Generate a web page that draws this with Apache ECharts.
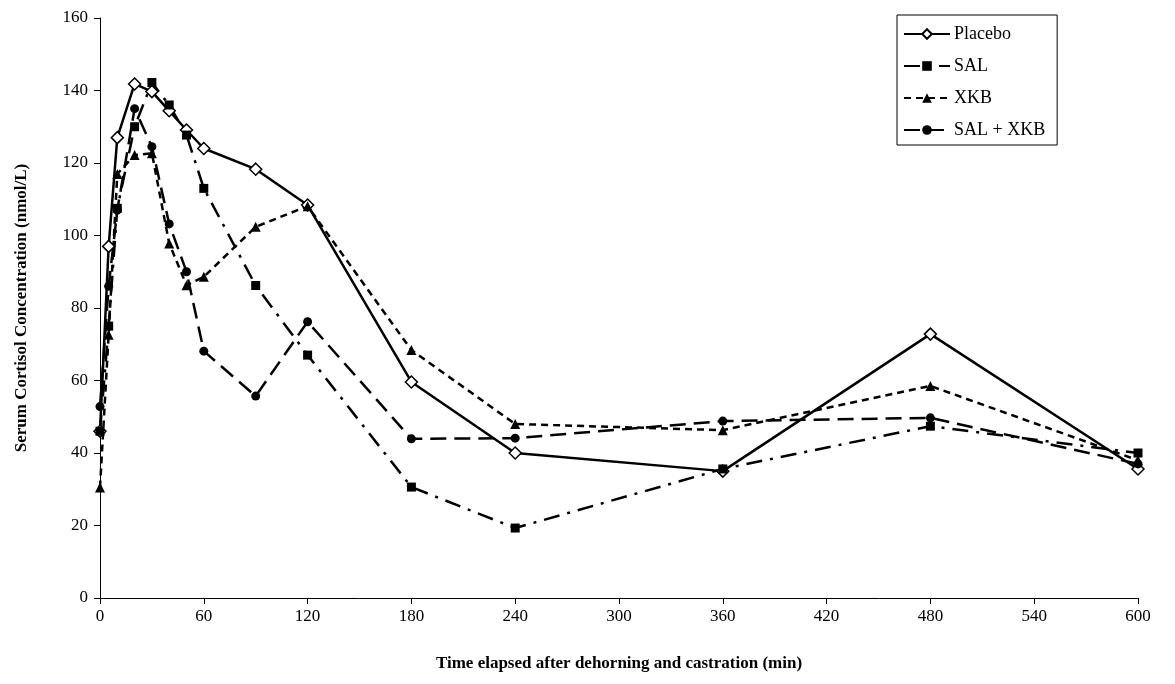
<!DOCTYPE html>
<html>
<head>
<meta charset="utf-8">
<script src="https://cdn.jsdelivr.net/npm/echarts@6/dist/echarts.min.js"></script>
<style>
  html, body { margin: 0; padding: 0; background: #fff; }
  #chart { width: 1175px; height: 684px; }
</style>
</head>
<body>
<div id="chart"></div>
<script>
// sampling times (min)
const times = [0, 5, 10, 20, 30, 40, 50, 60, 90, 120, 180, 240, 360, 480, 600];

// serum cortisol, nmol/L
const placebo = [46, 97, 127, 141.8, 139.7, 134.4, 129.1, 124, 118.3, 108.4, 59.6, 40, 35, 72.8, 35.6];
const sal     = [46, 75, 107.5, 130, 142.2, 136, 127.7, 113, 86.2, 67, 30.6, 19.3, 35.6, 47.4, 40];
const xkb     = [30.5, 72.6, 117, 122.2, 122.7, 97.8, 86.3, 88.6, 102.4, 108.1, 68.4, 48, 46.3, 58.5, 38];
const salXkb  = [52.8, 86, 107, 135, 124.5, 103.2, 90, 68.1, 55.7, 76.2, 43.9, 44.1, 48.8, 49.7, 37];

const xTicks = [0, 60, 120, 180, 240, 300, 360, 420, 480, 540, 600];
const yTicks = [0, 20, 40, 60, 80, 100, 120, 140, 160];

const pair = vals => times.map((t, i) => [t, vals[i]]);
const font = 'Liberation Serif';

const chart = echarts.init(document.getElementById('chart'));

const mk = (name, data, symbol, size, fill, dash) => ({
  name, type: 'line', data: pair(data),
  symbol, symbolSize: size,
  itemStyle: { color: fill, borderColor: '#000', borderWidth: fill === '#fff' ? 1.5 : 0 },
  lineStyle: { color: '#000', width: 2.5, type: dash },
  emphasis: { disabled: true },
  z: 3
});

chart.setOption({
  animation: false,
  textStyle: { fontFamily: font, color: '#000' },
  grid: { left: 100, right: 37, top: 18, bottom: 86 },
  legend: {
    orient: 'vertical',
    left: 897, top: 15,
    padding: [10, 12, 6, 6],
    itemWidth: 46, itemHeight: 12, itemGap: 14,
    borderColor: '#000', borderWidth: 1,
    textStyle: { fontFamily: font, fontSize: 18, color: '#000', padding: [0, 0, 0, -1] },
    data: ['Placebo', 'SAL', 'XKB', 'SAL + XKB']
  },
  xAxis: {
    type: 'value', min: 0, max: 600, interval: 60,
    name: 'Time elapsed after dehorning and castration (min)',
    nameLocation: 'middle', nameGap: 57,
    nameTextStyle: { fontFamily: font, fontSize: 17, fontWeight: 'bold', color: '#000' },
    axisLine: { lineStyle: { color: '#000', width: 1 } },
    axisTick: { show: true, inside: false, length: 6, lineStyle: { color: '#000' } },
    axisLabel: { fontFamily: font, fontSize: 17, color: '#000', margin: 10,
      customValues: xTicks },
    splitLine: { show: false }
  },
  yAxis: {
    type: 'value', min: 0, max: 160, interval: 20,
    name: 'Serum Cortisol Concentration (nmol/L)',
    nameLocation: 'middle', nameGap: 70,
    nameTextStyle: { fontFamily: font, fontSize: 17, fontWeight: 'bold', color: '#000' },
    axisLine: { show: true, lineStyle: { color: '#000', width: 1 } },
    axisTick: { show: true, inside: false, length: 6, lineStyle: { color: '#000' } },
    axisLabel: { fontFamily: font, fontSize: 17, color: '#000', margin: 12,
      customValues: yTicks },
    splitLine: { show: false }
  },
  series: [
    mk('Placebo', placebo, 'diamond', 12, '#fff', 'solid'),
    mk('SAL', sal, 'rect', 9, '#000', [16, 8, 3, 8]),
    mk('XKB', xkb, 'triangle', 10, '#000', [7, 5]),
    mk('SAL + XKB', salXkb, 'circle', 9, '#000', [16, 8])
  ]
});
</script>
</body>
</html>
